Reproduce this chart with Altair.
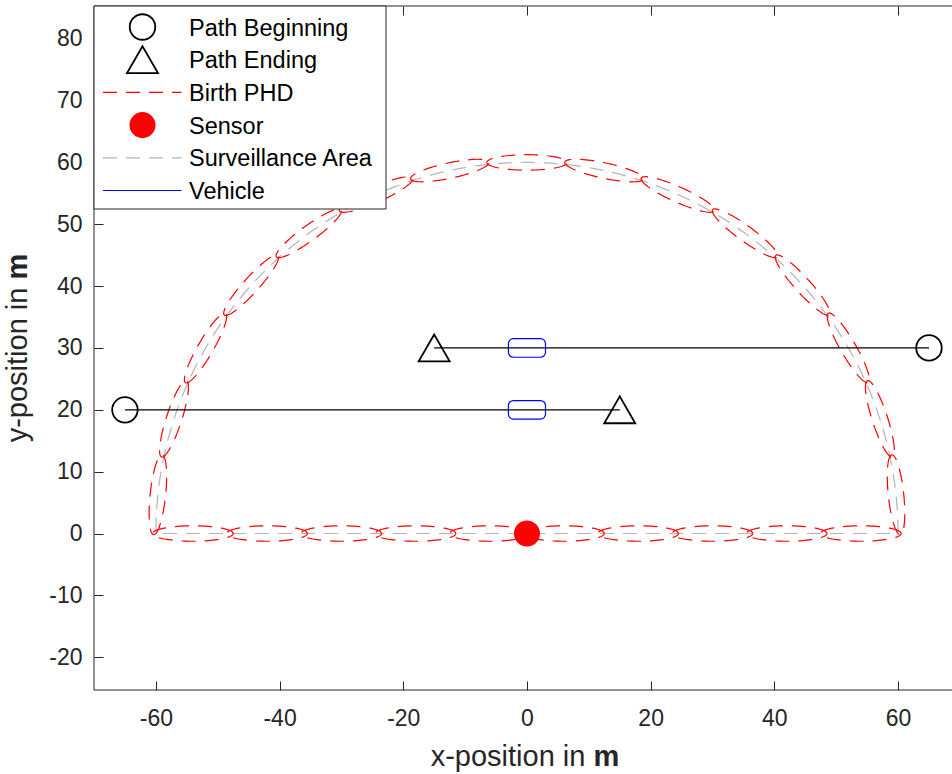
import altair as alt
import numpy as np
import pandas as pd

# ---------------------------------------------------------------- values
AREA_RADIUS = 60.0                      # surveillance half-disc radius (m)

# birth PHD components: centres on the arc (deg) and on the base line (m)
BIRTH_ARC_DEG = [6, 18, 30, 42, 54, 66, 78, 90, 102, 114, 126, 138, 150, 162, 174]
BIRTH_BASE_X = [-54, -42, -30, -18, -6, 6, 18, 30, 42, 54]
BIRTH_SEMI_ALONG = 6.5                  # 1-sigma semi-axis along the boundary (m)
BIRTH_SEMI_ACROSS = 1.25                # 1-sigma semi-axis across the boundary (m)

PATH_START_X = [-65, 65]
PATH_START_Y = [20, 30]
PATH_END_X = [15, -15]
PATH_END_Y = [20, 30]

VEHICLE_X = [0, 0]
VEHICLE_Y = [20, 30]
VEHICLE_LENGTH = 6.0
VEHICLE_WIDTH = 3.0

SENSOR_X = [0]
SENSOR_Y = [0]

X_TICKS = [-60, -40, -20, 0, 20, 40, 60]
Y_TICKS = [-20, -10, 0, 10, 20, 30, 40, 50, 60, 70, 80]

LEGEND_LABELS = ["Path Beginning", "Path Ending", "Birth PHD",
                 "Sensor", "Surveillance Area", "Vehicle"]

# ---------------------------------------------------------------- layout
PX_PER_M = 6.185                        # equal aspect ratio
PLOT_W, PLOT_H = 858, 684
X_DOMAIN = [-70.0, -70.0 + PLOT_W / PX_PER_M]
Y_DOMAIN = [-25.3, -25.3 + PLOT_H / PX_PER_M]

FONT = "Liberation Sans"
AXIS_COLOR = "#262626"
DASH = [14, 9]
RED = "#ff0000"
GREY = "#b4b4b4"
BLUE = "#0000ff"
TICK_FONT_SIZE = 23
LEGEND_FONT_SIZE = 23.5
TITLE_SIZE = 29

xs = alt.Scale(domain=X_DOMAIN, nice=False, zero=False)
ys = alt.Scale(domain=Y_DOMAIN, nice=False, zero=False)


def axis(orient, values, labels=True, pad=12):
    # MATLAB-style inward ticks: shift the axis inside by the tick length
    return alt.Axis(orient=orient, values=values, labels=labels, domain=False,
                    grid=False, ticks=True, tickSize=9, tickWidth=1,
                    tickColor=AXIS_COLOR, offset=-9, labelFont=FONT,
                    labelFontSize=TICK_FONT_SIZE, labelColor=AXIS_COLOR,
                    labelPadding=pad, labelOverlap=False, labelFlush=False,
                    labelExpr="toString(datum.value)", title=None)


# ---------------------------------------------------------------- geometry
ang = np.linspace(0.0, np.pi, 121)
area = pd.DataFrame({
    "x": np.r_[AREA_RADIUS * np.cos(ang), AREA_RADIUS],
    "y": np.r_[AREA_RADIUS * np.sin(ang), 0.0],
})
area["i"] = np.arange(len(area))

t = np.linspace(0.0, 2 * np.pi, 97)


def ellipse(cx, cy, ux, uy, k):
    ca, sa = np.cos(t), np.sin(t)
    return pd.DataFrame({
        "x": cx + BIRTH_SEMI_ALONG * ca * ux - BIRTH_SEMI_ACROSS * sa * uy,
        "y": cy + BIRTH_SEMI_ALONG * ca * uy + BIRTH_SEMI_ACROSS * sa * ux,
        "i": np.arange(len(t)),
        "id": k,
    })


parts = []
for k, deg in enumerate(BIRTH_ARC_DEG):
    th = np.radians(deg)
    parts.append(ellipse(AREA_RADIUS * np.cos(th), AREA_RADIUS * np.sin(th),
                         -np.sin(th), np.cos(th), k))
for k, cx in enumerate(BIRTH_BASE_X):
    parts.append(ellipse(cx, 0.0, 1.0, 0.0, 100 + k))
birth = pd.concat(parts, ignore_index=True)

paths = pd.DataFrame({"x": PATH_START_X, "x2": PATH_END_X, "y": PATH_START_Y})
starts = pd.DataFrame({"x": PATH_START_X, "y": PATH_START_Y})
ends = pd.DataFrame({"x": PATH_END_X, "y": PATH_END_Y})
vehicles = pd.DataFrame({
    "x": np.array(VEHICLE_X) - VEHICLE_LENGTH / 2,
    "x2": np.array(VEHICLE_X) + VEHICLE_LENGTH / 2,
    "y": np.array(VEHICLE_Y) - VEHICLE_WIDTH / 2,
    "y2": np.array(VEHICLE_Y) + VEHICLE_WIDTH / 2,
})
sensor = pd.DataFrame({"x": SENSOR_X, "y": SENSOR_Y})

# ---------------------------------------------------------------- data layers
area_layer = alt.Chart(area).mark_line(
    color=GREY, strokeWidth=1.2, strokeDash=DASH
).encode(
    x=alt.X("x:Q", scale=xs, axis=axis("bottom", X_TICKS, pad=17)),
    y=alt.Y("y:Q", scale=ys, axis=axis("left", Y_TICKS)),
    order="i:Q",
)

birth_layer = alt.Chart(birth).mark_line(
    color=RED, strokeWidth=1.2, strokeDash=DASH
).encode(
    x=alt.X("x:Q", scale=xs, axis=axis("top", X_TICKS, labels=False)),
    y=alt.Y("y:Q", scale=ys, axis=None),
    detail="id:N",
    order="i:Q",
)

vehicle_layer = alt.Chart(vehicles).mark_rect(
    fill="transparent", stroke=BLUE, strokeWidth=1.2, cornerRadius=5
).encode(
    x=alt.X("x:Q", scale=xs, axis=None), x2="x2:Q",
    y=alt.Y("y:Q", scale=ys, axis=None), y2="y2:Q",
)

path_layer = alt.Chart(paths).mark_rule(color="black", strokeWidth=1.2).encode(
    x=alt.X("x:Q", scale=xs, axis=None), x2="x2:Q",
    y=alt.Y("y:Q", scale=ys, axis=None),
)

start_layer = alt.Chart(starts).mark_point(
    shape="circle", size=650, filled=False, color="black", strokeWidth=1.8, opacity=1
).encode(
    x=alt.X("x:Q", scale=xs, axis=None),
    y=alt.Y("y:Q", scale=ys, axis=None),
)

end_layer = alt.Chart(ends).mark_point(
    shape="triangle-up", size=961, filled=False, color="black", strokeWidth=1.8, opacity=1
).encode(
    x=alt.X("x:Q", scale=xs, axis=None),
    y=alt.Y("y:Q", scale=ys, axis=None),
)

sensor_layer = alt.Chart(sensor).mark_point(
    shape="circle", size=680, filled=True, color=RED, opacity=1
).encode(
    x=alt.X("x:Q", scale=xs, axis=None),
    y=alt.Y("y:Q", scale=ys, axis=None),
)

data_group = alt.layer(
    area_layer, birth_layer, vehicle_layer, path_layer,
    start_layer, end_layer, sensor_layer,
).resolve_axis(x="independent", y="independent")

# ---------------------------------------------------------------- overlay (pixel space)
PXX = dict(scale=None, axis=None)

frame = pd.DataFrame({
    "px": [0, 0, 0], "px2": [0, PLOT_W, PLOT_W],
    "py": [0, 0, PLOT_H], "py2": [PLOT_H, 0, PLOT_H],
})
frame_layer = alt.Chart(frame).mark_rule(color=AXIS_COLOR, strokeWidth=1).encode(
    x=alt.X("px:Q", **PXX), x2="px2:Q",
    y=alt.Y("py:Q", **PXX), y2="py2:Q",
)

box = pd.DataFrame({"px": [0], "px2": [292], "py": [0], "py2": [203]})
box_layer = alt.Chart(box).mark_rect(
    fill="white", stroke=AXIS_COLOR, strokeWidth=1
).encode(
    x=alt.X("px:Q", **PXX), x2="px2:Q",
    y=alt.Y("py:Q", **PXX), y2="py2:Q",
)

row_y = [21 + 32.7 * i for i in range(len(LEGEND_LABELS))]
SYM_X = 48.5
LINE_X0, LINE_X1 = 9, 87.5

legend_text = pd.DataFrame({"px": 95, "py": [y + 1.5 for y in row_y],
                            "label": LEGEND_LABELS})
text_layer = alt.Chart(legend_text).mark_text(
    align="left", baseline="middle", font=FONT, fontSize=LEGEND_FONT_SIZE, color="black"
).encode(
    x=alt.X("px:Q", **PXX), y=alt.Y("py:Q", **PXX), text="label:N",
)


def legend_marker(row, **mark):
    df = pd.DataFrame({"px": [SYM_X], "py": [row_y[row]]})
    return alt.Chart(df).mark_point(opacity=1, **mark).encode(
        x=alt.X("px:Q", **PXX), y=alt.Y("py:Q", **PXX))


def legend_line(row, **mark):
    df = pd.DataFrame({"px": [LINE_X0], "px2": [LINE_X1], "py": [row_y[row]]})
    return alt.Chart(df).mark_rule(**mark).encode(
        x=alt.X("px:Q", **PXX), x2="px2:Q", y=alt.Y("py:Q", **PXX))


legend_layers = [
    legend_marker(0, shape="circle", size=650, filled=False, color="black", strokeWidth=1.8),
    legend_marker(1, shape="triangle-up", size=961, filled=False, color="black", strokeWidth=1.8),
    legend_line(2, color=RED, strokeWidth=1.2, strokeDash=DASH),
    legend_marker(3, shape="circle", size=680, filled=True, color=RED),
    legend_line(4, color=GREY, strokeWidth=1.2, strokeDash=DASH),
    legend_line(5, color=BLUE, strokeWidth=1.2),
]

# axis titles with a bold unit ("in" ends, then a space, then bold "m")
NORMAL_EM, SPACE_EM, UNIT_EM = 5.335, 0.278, 0.889
title_w = (NORMAL_EM + SPACE_EM + UNIT_EM) * TITLE_SIZE
x_start = 431.0 - title_w / 2
y_start = 342.0 + title_w / 2
x_title = pd.DataFrame({"px": [x_start + NORMAL_EM * TITLE_SIZE], "py": [751], "t": ["x-position in"]})
x_unit = pd.DataFrame({"px": [x_start + (NORMAL_EM + SPACE_EM) * TITLE_SIZE], "py": [751], "t": ["m"]})
y_title = pd.DataFrame({"px": [-76], "py": [y_start - NORMAL_EM * TITLE_SIZE], "t": ["y-position in"]})
y_unit = pd.DataFrame({"px": [-76], "py": [y_start - (NORMAL_EM + SPACE_EM) * TITLE_SIZE], "t": ["m"]})


def title_text(df, align, bold=False, angle=0):
    mark = dict(align=align, baseline="middle", font=FONT, fontSize=TITLE_SIZE,
                color=AXIS_COLOR, fontWeight="bold" if bold else "normal")
    if angle:
        mark["angle"] = angle
    return alt.Chart(df).mark_text(**mark).encode(
        x=alt.X("px:Q", **PXX), y=alt.Y("py:Q", **PXX), text="t:N")


overlay = alt.layer(
    frame_layer, box_layer, *legend_layers, text_layer,
    title_text(x_title, "right"), title_text(x_unit, "left", bold=True),
    title_text(y_title, "right", angle=270), title_text(y_unit, "left", bold=True, angle=270),
)

chart = alt.layer(data_group, overlay).resolve_scale(
    x="independent", y="independent"
).properties(
    width=PLOT_W, height=PLOT_H,
    padding={"left": 94, "top": 6, "right": 0, "bottom": 84},
    autosize=alt.AutoSizeParams(type="none"),
    background="white",
).configure_view(strokeWidth=0)

chart.save("out.html", embed_options={"renderer": "svg", "actions": False})
